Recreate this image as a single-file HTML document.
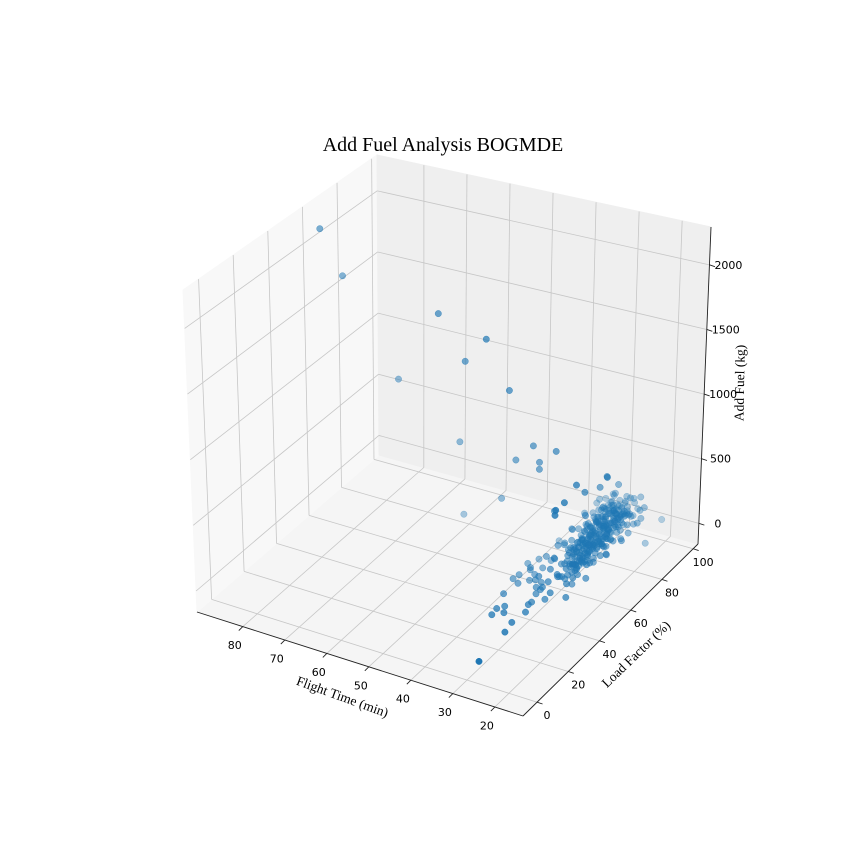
<!DOCTYPE html>
<html><head><meta charset="utf-8"><style>
html,body{margin:0;padding:0;background:#fff;}
svg{display:block;}
</style></head><body>
<svg id="chart" width="864" height="864" viewBox="0 0 864 864" xmlns="http://www.w3.org/2000/svg">
<rect x="0" y="0" width="864" height="864" fill="#fff"/>
<g id="panes"></g>
<g id="grid"></g>
<g id="axes"></g>
<g id="points"></g>
<text x="443" y="151" text-anchor="middle" font-family="Liberation Serif, serif" font-size="20" fill="#000">Add Fuel Analysis BOGMDE</text>
<text x="0" y="0" transform="translate(342,698) rotate(20)" text-anchor="middle" dominant-baseline="middle" font-family="Liberation Serif, serif" font-size="13.5" fill="#000">Flight Time (min)</text>
<text x="0" y="0" transform="translate(637,655) rotate(-44)" text-anchor="middle" dominant-baseline="middle" font-family="Liberation Serif, serif" font-size="13.5" fill="#000">Load Factor (%)</text>
<text x="0" y="0" transform="translate(741,383) rotate(-89)" text-anchor="middle" dominant-baseline="middle" font-family="Liberation Serif, serif" font-size="13.5" fill="#000">Add Fuel (kg)</text>
</svg>
<script>
const xTicks = [20,30,40,50,60,70,80];
const yTicks = [0,20,40,60,80,100];
const zTicks = [0,500,1000,1500,2000];
const xLim = [13.3, 90.9];
const yLim = [-9, 103.1];
const zLim = [-160, 2293];
// data points (flight time min, load factor %, add fuel kg)
const flightTime = [
88.6,83.5,61.2,50.0,54.9,70.6,44.5,56.1,38.7,42.8,33.3,37.2,37.2,46.1,55.1,33.5,21.1,20.2,20.5,
25,25,25,25,25,25,25,25,25,
27.3,33.9,34.2,32.1,33.2,28.8,28.2,35.8,35.2,37,36.7,37.3,33.7,32.7,33.9,36.1,35.6,28.3,29.2,29.1,29.9,29.9,27.2,31.1,31.1,36,33.7,33.6,36,25.2,
24,27,29,25,22,30,26,28,23,31,25,27,29,24,26,
23,25,27,29,31,22,24,26,28,30,25,27,29,23,26,28,30,24,22,31,
23,25,27,29,31,22,24,26,28,30,25,27,29,23,26,28,30,24,22,31,25,27,29,26,24,28,30,23,
23,25,27,29,31,22,24,26,28,30,25,27,29,23,26,28,30,24,22,31,25,27,29,26,24,28,30,23,32,21,
23,25,27,29,31,22,24,26,28,30,25,27,29,23,26,28,30,24,31,25,27,29,26,24,28,30,32,21,
26,29,24,31,27,23,28,
33,20,33,20,32,21,33,21,
25,26,27,25,26,27,25,26,27,25,26,27,25,26,27,25,26,27,28,28,28,28,28,28,24,24,24,24,24,24,26,26,26,26,26,26,26,27,25,27,25,27,25,29,29,29,23,23,23,23,
25,26,27,28,25,26,27,28,25,26,27,28,25,26,27,28,25,26,27,28,24,29,24,29,24,29,24,29,24,29,26,27,25,28,26,27,25,28,26,27,25,28,26,27,25,28,26,27,25,28,
26,25,27,26,28,25,27,26,24,28,26,25,27,26,28,25,27,26,24,28,26,25,27,26,28,25,27,26,24,28,27,26,25,27,26,25,28,27,26,25,27,26,25,28,27,26,25,27,26,25,
29,30,28,29,30,28,29,30,28,29
];
const loadFactor = [
64,64,64,64,64,64,64,64,64,64,64,64,64,64,64,64,64,97.5,88,
55,74.3,81.8,60.4,47.5,42.1,41.7,70,92.5,
0.4,26,29.9,28.9,32.3,25.2,19.2,38.5,46,47.6,50.6,57.7,49.3,50.4,53.1,61.6,54.8,32.5,36.7,38.5,43.4,46.2,41.9,46.7,50,56,57.6,62.7,74,53.7,
51,52,50,53,54,55,56,53,57,58,58,54,57,55,52,
59,60,61,62,60,63,64,64,65,64,66,67,59,65,62,60,66,61,67,64,
68,69,70,70,69,71,72,73,74,72,75,76,68,74,70,69,75,70,76,73,71,72,73,68,75,71,70,70,
76,77,78,79,77,80,81,82,82,81,83,84,76,82,79,77,83,78,84,82,80,81,82,76,83,80,78,79,80,78,
85,86,87,87,86,88,89,90,91,89,92,92,85,91,87,86,92,87,90,88,89,90,85,92,88,87,87,86,
42,45,47,48,49,44,46,
74,71,82,81,67,64,58,88,
59,61,63,64,66,68,70,71,73,75,76,78,80,82,83,85,87,88,62,67,72,77,82,87,60,65,70,75,81,86,58,64,69,74,79,84,89,57,56,65,72,81,82,75,80,84,67,72,77,84,
56,58,60,62,63,65,67,68,70,71,73,74,76,77,79,80,82,83,85,86,60,61,66,67,72,73,78,79,84,85,57,59,64,66,69,72,75,77,80,82,61,63,68,70,74,76,81,84,86,62,
53,55,57,59,61,63,65,67,69,71,73,75,77,79,81,83,85,87,54,58,62,66,70,74,78,82,86,60,64,68,72,76,80,84,56,60,64,68,72,76,80,84,88,52,66,70,74,78,82,86,
70,74,78,82,86,72,76,80,84,88
];
const addFuel = [
2100,1768,1656,1550,1337,1062,1199,699,821,676,826,708,654,350,144,365,733,35,-40,
740,591,444,625,689,691,657,556,181,
0,0,0,0,0,0,0,0,0,0,0,0,0,0,0,0,0,0,0,0,0,0,0,0,0,0,0,0,0,0,
90,60,120,100,70,140,110,40,130,90,150,20,80,170,130,
120,90,150,110,170,140,60,190,130,100,160,120,60,200,80,180,150,230,100,130,
140,110,170,130,190,160,90,210,150,120,180,140,80,220,100,200,170,250,120,150,130,60,190,160,110,240,90,180,
160,130,190,150,210,180,110,230,170,140,200,160,100,240,120,220,190,270,140,170,150,80,210,180,130,260,110,200,160,150,
180,150,210,170,230,200,130,250,190,160,220,180,120,260,140,240,210,290,190,170,100,230,200,150,280,130,180,170,
60,40,90,70,110,30,80,
120,180,150,200,100,150,90,230,
110,130,120,140,150,130,160,150,170,140,170,160,180,170,190,180,200,190,140,160,130,180,150,200,150,120,170,160,190,170,90,110,140,120,160,150,210,100,90,150,100,210,130,160,180,200,160,150,190,210,
100,90,120,110,130,120,140,150,140,160,150,170,160,180,170,190,180,200,190,210,120,100,140,130,150,160,170,150,190,180,110,80,130,150,120,170,140,190,160,200,90,140,110,180,130,200,150,220,190,160,
70,90,80,110,100,120,110,130,140,130,150,140,160,170,160,180,170,190,80,100,110,130,140,150,160,170,190,60,90,120,150,140,180,200,120,130,100,160,110,170,130,180,200,50,110,120,130,150,160,170,
120,130,150,160,180,140,150,170,190,200
];

// box corners [u][v][w] screen coords
const C = {
 '000':[523,716],'100':[197,612],'010':[698,544],'110':[379,455],
 '001':[525,381],'101':[183,290],'011':[711,227],'111':[377,155]
};
function P(u,v,w){
  let sx=0, sy=0;
  for (const a of [0,1]) for (const b of [0,1]) for (const c of [0,1]) {
    const wt=(a?u:1-u)*(b?v:1-v)*(c?w:1-w);
    const p=C[''+a+b+c]; sx+=wt*p[0]; sy+=wt*p[1];
  }
  return [sx,sy];
}
function nx(x){return (x-xLim[0])/(xLim[1]-xLim[0]);}
function ny(y){return (y-yLim[0])/(yLim[1]-yLim[0]);}
function nz(z){return (z-zLim[0])/(zLim[1]-zLim[0]);}
function proj(x,y,z){return P(nx(x),ny(y),nz(z));}

const NS='http://www.w3.org/2000/svg';
function mk(tag, attrs, parent){
  const e=document.createElementNS(NS,tag);
  for (const k in attrs) e.setAttribute(k, attrs[k]);
  parent.appendChild(e); return e;
}
const panes=document.getElementById('panes');
const grid=document.getElementById('grid');
const axes=document.getElementById('axes');
const pts=document.getElementById('points');
function poly(list){return list.map(c=>P(c[0],c[1],c[2]).join(',')).join(' ');}

let e;
e=mk('polygon',{points:poly([[0,0,0],[1,0,0],[1,1,0],[0,1,0]]),fill:'#f5f5f5',stroke:'#f5f5f5'},panes);


e=mk('polygon',{points:poly([[1,0,0],[1,1,0],[1,1,1],[1,0,1]]),fill:'#f8f8f8',stroke:'#f8f8f8'},panes);


e=mk('polygon',{points:poly([[1,1,0],[0,1,0],[0,1,1],[1,1,1]]),fill:'#efefef',stroke:'#efefef'},panes);



function line(a,b,parent,stroke,sw,name){
  const l=mk('line',{x1:a[0],y1:a[1],x2:b[0],y2:b[1],stroke:stroke,'stroke-width':sw},parent);
  
  
  return l;
}
const GC='#c6c6c6';
xTicks.forEach(t=>{
  const u=nx(t);
  line(P(u,0,0),P(u,1,0),grid,GC,0.8,'x-gridline-floor');
  line(P(u,1,0),P(u,1,1),grid,GC,0.8,'x-gridline-wall');
});
yTicks.forEach(t=>{
  const v=ny(t);
  line(P(0,v,0),P(1,v,0),grid,GC,0.8,'y-gridline-floor');
  line(P(1,v,0),P(1,v,1),grid,GC,0.8,'y-gridline-wall');
});
zTicks.forEach(t=>{
  const w=nz(t);
  line(P(1,0,w),P(1,1,w),grid,GC,0.8,'z-gridline-left');
  line(P(1,1,w),P(0,1,w),grid,GC,0.8,'z-gridline-right');
});

line(P(0,0,0),P(1,0,0),axes,'#222',0.9,'x-axis-line');
line(P(0,0,0),P(0,1,0),axes,'#222',0.9,'y-axis-line');
line(P(0,1,0),P(0,1,1),axes,'#222',0.9,'z-axis-line');

function txt(s,x,y,parent,name,anchor){
  const t=mk('text',{x:x,y:y,'text-anchor':anchor||'middle','dominant-baseline':'middle','font-family':'DejaVu Sans, Liberation Sans, sans-serif','font-size':11,fill:'#000'},parent);
  t.textContent=s;
  
  
}
xTicks.forEach(t=>{
  const p=proj(t,yLim[0],zLim[0]);
  line(p,[p[0]-4,p[1]+4],axes,'#222',0.9,'x-tick');
  txt(String(t),p[0]-8,p[1]+19.5,axes,'x-tick-label');
});
yTicks.forEach(t=>{
  const p=proj(xLim[0],t,zLim[0]);
  line(p,[p[0]+5.5,p[1]+1.8],axes,'#222',0.9,'y-tick');
  txt(String(t),p[0]+10,p[1]+14,axes,'y-tick-label');
});
zTicks.forEach(t=>{
  const p=proj(xLim[0],yLim[1],t);
  line(p,[p[0]+5.5,p[1]+1.8],axes,'#222',0.9,'z-tick');
  txt(String(t),p[0]+19,p[1]+1,axes,'z-tick-label');
});

const list=[];
for (let i=0;i<flightTime.length;i++){
  const u=nx(flightTime[i]), v=ny(loadFactor[i]), w=nz(addFuel[i]);
  list.push({i:i,d:0.45*u+0.85*v-0.5*w});
}
let dmin=Infinity,dmax=-Infinity;
list.forEach(o=>{dmin=Math.min(dmin,o.d);dmax=Math.max(dmax,o.d);});
list.sort((a,b)=>b.d-a.d);
list.forEach(o=>{
  const i=o.i;
  const p=proj(flightTime[i],loadFactor[i],addFuel[i]);
  const a=1-0.7*(o.d-dmin)/(dmax-dmin);
  const c=mk('circle',{cx:p[0].toFixed(1),cy:p[1].toFixed(1),r:3.2,fill:'#1f77b4',stroke:'#1f77b4','stroke-width':0.5,'fill-opacity':a.toFixed(2),'stroke-opacity':a.toFixed(2)},pts);
  
  
});
</script>
</body></html>
